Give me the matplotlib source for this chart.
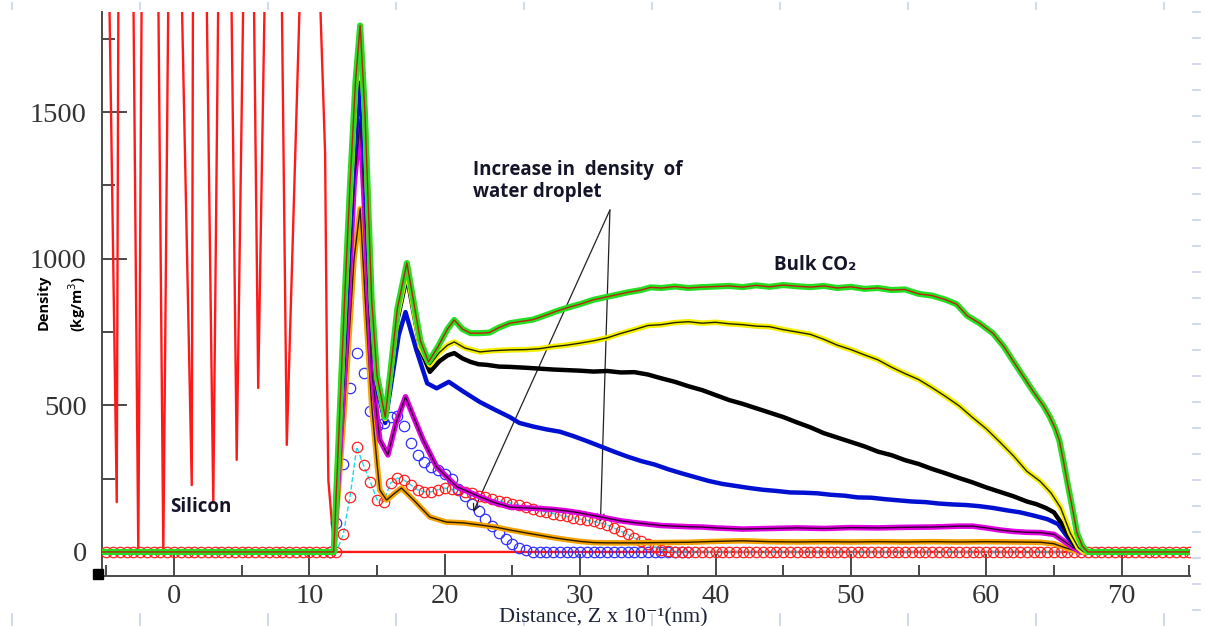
import numpy as np
import matplotlib
matplotlib.use("Agg")
import matplotlib.pyplot as plt
from matplotlib.ticker import MultipleLocator
from matplotlib.lines import Line2D

# Silicon substrate profile (wells between the atomic layers, peaks run off the top)
si_z = [-5.3, -4.78, -4.23, -4.11, -3.00, -2.64, -2.39, -1.16, -0.79, -0.42,
        0.57, 1.31, 1.40, 2.41, 2.90, 3.27, 4.24, 4.63, 5.12, 5.90, 6.22, 6.70,
        7.96, 8.33, 9.30, 10.78, 11.16, 11.30, 11.40, 11.75, 11.90, 75.0]
si_rho = [1900, 1900, 170, 1900, 1900, 0, 1900, 1900, 0, 1900,
          1900, 228, 1900, 1900, 167, 1900, 1900, 314, 1900, 1900, 559, 1900,
          1900, 365, 1900, 1900, 1360, 620, 245, 51, 0, 0]

# CO2 density profiles, from the densest bulk phase down
green_z = [-5.3, 11.8, 12.6, 13.0, 13.4, 13.75, 14.1, 14.6, 15.0, 15.6, 16.0, 16.5,
           17.2, 17.6, 18.2, 18.8, 19.5, 20.2, 20.7, 21.3, 21.9, 22.6, 23.3, 24.0,
           24.8, 25.5, 26.5, 27.5, 28.2, 29, 30, 31, 31.8, 32.5, 33.5, 34.5, 35.2,
           36, 37, 38, 39, 40, 41, 42, 43, 44, 45, 46, 47, 48, 49, 50, 51, 52, 53,
           54, 55, 56, 57, 57.8, 58.6, 59.5, 60.5, 61.3, 62, 62.5, 63, 63.5, 64.2,
           64.7, 65.1, 65.4, 65.7, 66.0, 66.4, 66.7, 67.1, 67.5, 75]
green_rho = [0, 0, 860, 1250, 1600, 1795, 1500, 860, 600, 460, 620, 830,
             985, 880, 720, 648, 700, 760, 791, 760, 746, 746, 748, 765,
             780, 785, 792, 808, 820, 832, 845, 860, 868, 875, 885, 893, 902,
             900, 905, 900, 903, 905, 907, 903, 909, 904, 910, 906, 903, 907, 900,
             904, 897, 900, 893, 895, 880, 874, 860, 845, 805, 780, 745, 700, 650,
             615, 580, 545, 500, 460, 420, 380, 310, 235, 140, 65, 20, 0, 0]

yellow_z = [-5.3, 11.8, 12.6, 13.4, 13.75, 14.1, 14.6, 15.0, 15.6, 16.0, 16.5, 17.2,
            17.6, 18.2, 18.9, 19.6, 20.2, 20.7, 21.5, 22.6, 23.5, 24.8, 26, 27, 28,
            29, 30, 31, 32, 33, 34, 35, 36, 37, 38, 39, 40, 41, 42, 43, 44, 45, 46,
            47, 48, 49, 50, 51, 52, 53, 54, 55, 56, 57, 58, 59, 60, 61, 62, 63, 64,
            64.8, 65.5, 66.2, 66.8, 67.2, 75]
yellow_rho = [0, 0, 840, 1580, 1780, 1480, 840, 590, 455, 610, 810, 965,
              860, 700, 638, 680, 705, 716, 695, 682, 686, 689, 690, 693, 700,
              705, 712, 720, 730, 745, 758, 772, 775, 782, 785, 780, 783, 778, 775,
              770, 768, 758, 750, 742, 725, 705, 690, 672, 655, 630, 608, 588, 560,
              530, 498, 458, 420, 375, 328, 275, 240, 200, 150, 65, 15, 0, 0]

black_z = [-5.3, 11.8, 12.6, 13.4, 13.75, 14.1, 14.6, 15.0, 15.6, 16.0, 16.5, 17.2,
           17.6, 18.2, 18.9, 19.6, 20.2, 20.7, 21.3, 21.9, 22.5, 23.1, 24, 24.8, 26,
           27, 28, 29, 30, 31, 32, 33, 34, 35, 36, 37, 38, 39, 40, 41, 42, 43, 44,
           45, 46, 47, 48, 49, 50, 51, 52, 53, 54, 55, 56, 57, 58, 59, 60, 61, 62,
           63, 63.7, 64.4, 65, 65.6, 66.1, 66.6, 67.2, 75]
black_rho = [0, 0, 830, 1560, 1760, 1470, 830, 580, 456, 600, 790, 940,
             840, 690, 614, 650, 670, 678, 660, 648, 640, 638, 632, 631, 628,
             625, 622, 620, 618, 615, 617, 612, 613, 605, 592, 580, 565, 552, 535,
             518, 505, 490, 475, 460, 442, 425, 405, 390, 375, 360, 342, 330, 313,
             300, 283, 268, 252, 237, 220, 205, 190, 172, 163, 150, 135, 95, 55,
             20, 0, 0]

blue_z = [-5.3, 11.8, 12.6, 13.3, 13.75, 14.1, 14.6, 15.0, 15.6, 16.0, 16.6, 17.1,
          17.9, 18.7, 19.4, 20.3, 21.4, 22.6, 23.7, 24.8, 25.5, 26.5, 27.5, 28.5,
          29.5, 30.5, 31.5, 32.5, 33.5, 34.5, 35.5, 36.5, 37.5, 38.5, 39.5, 40.5,
          41.5, 42.5, 43.5, 44.5, 45.5, 46.5, 47.5, 48.5, 49.5, 50.5, 51.5, 52.5,
          53.5, 54.5, 55.5, 56.5, 57.5, 58.5, 59.5, 60.5, 61.5, 62.5, 63.5, 64.5,
          65.3, 66.0, 66.6, 67.2, 75]
blue_rho = [0, 0, 740, 1350, 1600, 1300, 780, 560, 440, 560, 740, 818,
            689, 575, 558, 580, 546, 511, 485, 460, 440, 428, 418, 410,
            395, 378, 360, 342, 325, 310, 298, 282, 268, 255, 242, 232,
            225, 218, 212, 208, 203, 202, 200, 195, 192, 186, 185, 180,
            176, 172, 170, 165, 162, 160, 156, 150, 142, 135, 124, 112,
            95, 51, 18, 0, 0]

magenta_z = [-5.3, 11.8, 12.6, 13.3, 13.75, 14.1, 14.6, 15.2, 15.8, 16.4, 17.1, 17.7,
             18.4, 19.4, 20.9, 22.6, 23.7, 24.8, 26, 27, 28, 29, 30, 31, 32, 33, 34,
             35, 36, 37, 38, 39, 40, 42, 44, 46, 48, 50, 52, 54, 56, 58, 59, 60, 61,
             62, 63, 64, 65, 65.8, 66.4, 67, 75]
magenta_rho = [0, 0, 620, 1250, 1470, 1150, 620, 382, 331, 440, 529, 460,
               382, 290, 222, 188, 168, 153, 150, 148, 145, 140, 133, 124, 115, 106, 100,
               95, 90, 88, 86, 85, 82, 78, 80, 82, 80, 83, 82, 84, 85, 88, 88, 82, 75,
               70, 67, 66, 60, 35, 15, 0, 0]

orange_z = [-5.3, 11.8, 12.6, 13.3, 13.75, 14.2, 14.6, 15.0, 15.2, 15.7, 16.3, 16.8,
            17.7, 18.9, 20.1, 21.4, 22.6, 23.7, 24.8, 26, 27, 28, 29, 30, 31, 32, 34,
            36, 38, 40, 42, 44, 46, 48, 50, 52, 54, 56, 58, 60, 62, 64, 65, 65.8,
            66.5, 67, 75]
orange_rho = [0, 0, 500, 1000, 1170, 800, 500, 300, 211, 177, 200, 218,
              177, 119, 102, 99, 92, 85, 75, 65, 57, 49, 42, 36, 32, 31, 31,
              32, 33, 36, 38, 35, 34, 35, 34, 35, 34, 35, 34, 35, 34, 33, 28, 15,
              5, 0, 0]

# Water droplet profiles (open circles)
water_red_z = np.arange(-5.0, 75.01, 0.5)
water_red_rho = np.concatenate([
    np.zeros(35),
    [60, 188, 358, 295, 240, 178, 172, 235, 252, 245, 228, 212, 205, 205, 212,
     218, 213, 210, 204, 200, 192, 186, 180, 175, 170, 165, 160, 153, 147, 141,
     136, 131, 126, 121, 116, 112, 108, 104, 99, 92, 82, 71, 60, 48, 36, 26, 16,
     8, 3],
    np.zeros(77)])

water_blue_z = np.arange(11.5, 38.01, 0.5)
water_blue_rho = np.concatenate([
    [0, 100, 300, 560, 678, 610, 480, 430, 440, 460, 465, 430, 370, 332, 305,
     290, 280, 266, 250, 215, 190, 165, 138, 112, 88, 64, 44, 26, 13, 5],
    np.zeros(24)])

fig = plt.figure(figsize=(12.05, 6.26), dpi=100)
ax = fig.add_axes([102 / 1205, 50 / 626, 1088 / 1205, 564 / 626])

ax.plot(si_z, si_rho, color="#ff1a1a", lw=1.7, zorder=2)

ax.plot(water_blue_z, water_blue_rho, ls="none", marker="o", ms=7.5, mfc="none",
        mec="#3030ff", mew=0.9, zorder=3)
ax.plot(water_red_z, water_red_rho, ls="--", color="#20d8e8", lw=1.0,
        marker="o", ms=7.5, mfc="none", mec="#ff2020", mew=0.9, zorder=4)


def banded(z, rho, band, core, band_lw, core_lw, zorder):
    ax.plot(z, rho, color=band, lw=band_lw, zorder=zorder)
    if core is not None:
        ax.plot(z, rho, color=core, lw=core_lw, zorder=zorder + 0.1)


banded(orange_z, orange_rho, "#f5a300", "#2a1a00", 4.0, 1.0, 5)
banded(magenta_z, magenta_rho, "#e000e0", "#300030", 4.0, 1.0, 6)
banded(blue_z, blue_rho, "#0010d0", None, 3.2, 1.0, 7)
banded(black_z, black_rho, "#000000", None, 3.2, 1.0, 8)
banded(yellow_z, yellow_rho, "#f4f000", "#222200", 4.0, 1.0, 9)
banded(green_z, green_rho, "#22e022", "#c02010", 4.4, 1.0, 10)

ax.set_xlim(-5.32, 75.05)
ax.set_ylim(-82, 1841)

for side in ["top", "right"]:
    ax.spines[side].set_visible(False)
for side in ["left", "bottom"]:
    ax.spines[side].set_color("#4a4a4a")
    ax.spines[side].set_linewidth(1.4)

ax.xaxis.set_major_locator(MultipleLocator(10))
ax.xaxis.set_minor_locator(MultipleLocator(5))
ax.yaxis.set_major_locator(MultipleLocator(500))
ax.yaxis.set_minor_locator(MultipleLocator(250))
ax.tick_params(which="both", direction="in", color="#3a3a3a", width=1.3)
ax.tick_params(which="major", length=18, pad=11)
ax.tick_params(which="minor", length=9)
ax.tick_params(axis="x", which="major", length=16, pad=6)
ax.tick_params(axis="x", which="minor", length=8)
for lab in ax.get_xticklabels() + ax.get_yticklabels():
    lab.set_fontfamily("Liberation Serif")
    lab.set_fontsize(20.5)
    lab.set_color("#333333")

# corner marker of the axes
ax.plot([-0.004], [0.004], marker="s", ms=7, color="black",
        transform=ax.transAxes, clip_on=False, zorder=12)

label_font = ["Open Sans", "DejaVu Sans"]
fig.text(44 / 1205, 1 - 302 / 626, "Density", rotation=90, ha="center",
         va="center", fontsize=10.5, fontweight="bold", family=label_font)
fig.text(77 / 1205, 1 - 304 / 626, "(kg/m$^3$)", rotation=90, ha="center",
         va="center", fontsize=10.5, fontweight="bold", family=label_font)
fig.text(603 / 1205, 1 - 618 / 626, "Distance, Z x 10\u207b\u00b9(nm)",
         ha="center", va="center", fontsize=16, color="#1c2238",
         family=["Liberation Serif", "DejaVu Serif"])

ax.text(-0.3, 153, "Silicon", fontsize=13.5, fontweight="bold", color="#15152a",
        family=label_font, va="center")
ax.text(44.3, 980, "Bulk CO\u2082", fontsize=13.5, fontweight="bold",
        color="#15152a", family=label_font, va="center")
ax.text(22.1, 1265, "Increase in  density  of\nwater droplet", fontsize=13.5,
        fontweight="bold", color="#15152a", family=label_font, va="center",
        linespacing=1.15)

apex = (32.2, 1166)
for tip in [(22.1, 136), (31.5, 102)]:
    ax.annotate("", xy=tip, xytext=apex,
                arrowprops=dict(arrowstyle="->", lw=0.9, color="#222222",
                                mutation_scale=12, shrinkA=0, shrinkB=0))

# faint sheet cell marks round the chart area
grid_col = "#c8d2e8"
for xp in np.arange(12, 1205, 128):
    fig.add_artist(Line2D([xp / 1205] * 2, [1 - 3 / 626, 1 - 9 / 626],
                          color=grid_col, lw=1.2))
    fig.add_artist(Line2D([xp / 1205] * 2, [0, 12 / 626], color=grid_col, lw=1.2))
for yp in np.arange(12, 626, 26):
    fig.add_artist(Line2D([1193 / 1205, 1200 / 1205], [1 - yp / 626] * 2,
                          color=grid_col, lw=1.2))

fig.savefig("out.png", dpi=100)
